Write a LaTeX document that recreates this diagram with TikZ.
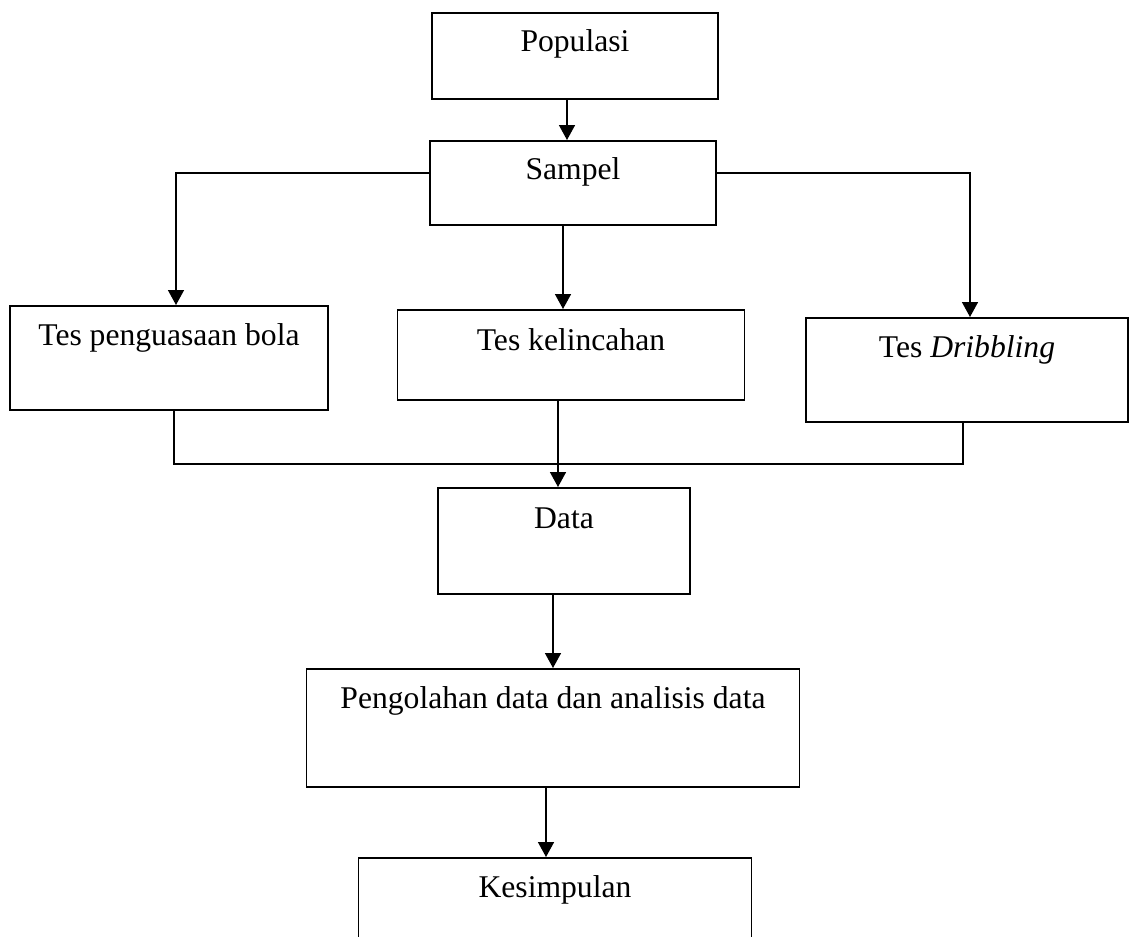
\documentclass[tikz,border=0pt]{standalone}
\usepackage{fontspec}
\setmainfont{Liberation Serif}
\usepackage{tikz}
\usetikzlibrary{arrows.meta}
\tikzstyle{kotak} = [draw,line width=1pt,inner xsep=0pt,inner ysep=0pt,anchor=north,font=\fontsize{18}{20}\selectfont]
\tikzstyle{panah} = [line width=0.9pt,-{Triangle[length=0.3cm,width=0.32cm]}]
\tikzstyle{garis} = [line width=0.9pt]

\begin{document}
\begin{tikzpicture}[x=0.02cm,y=-0.02cm]
            \useasboundingbox (0,0) rectangle (1130,937);
            % kotak-kotak
            \node[kotak,minimum width=5.72cm,text height=0.78cm,text depth=0.94cm] (pop) at (575,12) {Populasi};
            \node[kotak,minimum width=5.72cm,text height=0.78cm,text depth=0.9cm] (sam) at (573,140) {Sampel};
            \node[kotak,minimum width=6.36cm,text height=0.8cm,text depth=1.28cm] (tpb) at (169,305) {Tes penguasaan bola};
            \node[kotak,minimum width=6.94cm,text height=0.82cm,text depth=0.98cm] (tkel) at (571,309) {Tes kelincahan};
            \node[kotak,minimum width=6.44cm,text height=0.8cm,text depth=1.28cm] (tdr) at (967,317) {Tes \textit{Dribbling}};
            \node[kotak,minimum width=5.04cm,text height=0.82cm,text depth=1.3cm] (data) at (564,487) {Data};
            \node[kotak,minimum width=9.86cm,text height=0.8cm,text depth=1.56cm] (peng) at (553,668) {Pengolahan data dan analisis data};
            \node[kotak,minimum width=7.86cm,text height=0.8cm,text depth=1.8cm] (kes) at (555,857) {Kesimpulan};
            \coordinate (gabung) at (558,464);
            % panah
            \draw[panah] ([xshift=-0.16cm]pop.south) -- ([xshift=-0.12cm]sam.north);
            \draw[panah] ([yshift=0.2cm]sam.west) -| ([xshift=0.14cm]tpb.north);
            \draw[panah] ([xshift=-0.2cm]sam.south) -- ([xshift=-0.16cm]tkel.north);
            \draw[panah] ([yshift=0.2cm]sam.east) -| ([xshift=0.06cm]tdr.north);
            \draw[garis] ([xshift=0.1cm]tpb.south) |- (gabung) -| ([xshift=-0.08cm]tdr.south);
            \draw[panah] ([xshift=-0.26cm]tkel.south) -- (data.north -| gabung);
            \draw[panah] (data.south -| peng.north) -- (peng.north);
            \draw[panah] ([xshift=-0.14cm]peng.south) -- ([xshift=-0.18cm]kes.north);
        \end{tikzpicture}
\end{document}
